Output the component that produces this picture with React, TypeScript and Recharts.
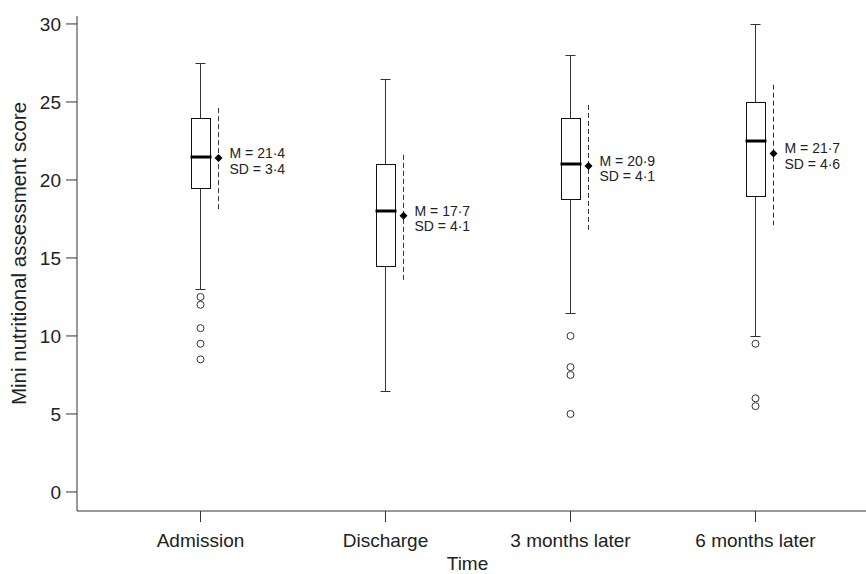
import { ComposedChart, Bar, Scatter, XAxis, YAxis } from "recharts";

const categories = ["Admission", "Discharge", "3 months later", "6 months later"];
const whiskerLow = [13, 6.5, 11.5, 10];
const q1 = [19.5, 14.5, 18.75, 19];
const medians = [21.5, 18, 21, 22.5];
const q3 = [24, 21, 24, 25];
const whiskerHigh = [27.5, 26.5, 28, 30];
const means = [21.4, 17.7, 20.9, 21.7];
const sds = [3.4, 4.1, 4.1, 4.6];
const outliers = [
  [12.5, 12, 10.5, 9.5, 8.5],
  [],
  [10, 8, 7.5, 5],
  [9.5, 6, 5.5],
];
const yTicks = [0, 5, 10, 15, 20, 25, 30];

const FONT = "'Liberation Sans', Arial, sans-serif";
const INK = "#222";

const rows = categories.map((name, i) => ({
  name,
  lo: whiskerLow[i],
  q1: q1[i],
  med: medians[i],
  q3: q3[i],
  hi: whiskerHigh[i],
  mean: means[i],
  sd: sds[i],
  outliers: outliers[i],
}));

const crisp = (v: number) => Math.round(v) + 0.5;
const fmt = (v: number) => v.toFixed(1).replace(".", "\u00b7");

function BoxShape(props: any) {
  const { x, y, width, height, payload } = props;
  const d = payload;
  const k = height / (d.hi - d.lo);
  const yOf = (v: number) => y + (d.hi - v) * k;
  const cx = crisp(x + width / 2 - 0.5);
  const bl = crisp(cx - 9.5);
  const br = bl + 19;
  const mx = cx + 18;
  const my = yOf(d.mean);
  return (
    <g>
      <line x1={cx} x2={cx} y1={crisp(yOf(d.hi))} y2={crisp(yOf(d.q3))} stroke="#333" />
      <line x1={cx} x2={cx} y1={crisp(yOf(d.q1))} y2={crisp(yOf(d.lo))} stroke="#333" />
      <line x1={cx - 5} x2={cx + 5} y1={crisp(yOf(d.hi))} y2={crisp(yOf(d.hi))} stroke="#333" />
      <line x1={cx - 5} x2={cx + 5} y1={crisp(yOf(d.lo))} y2={crisp(yOf(d.lo))} stroke="#333" />
      <rect x={bl} y={crisp(yOf(d.q3))} width={br - bl} height={crisp(yOf(d.q1)) - crisp(yOf(d.q3))} fill="#fff" stroke="#111" />
      <line x1={bl - 1} x2={br + 1} y1={Math.round(yOf(d.med))} y2={Math.round(yOf(d.med))} stroke="#000" strokeWidth={3} />
      <line x1={mx} x2={mx} y1={yOf(d.mean + d.sd) + 3} y2={yOf(d.mean - d.sd)} stroke="#333" strokeDasharray="5 3" />
      <polygon points={`${mx - 4},${my} ${mx},${my - 4} ${mx + 4},${my} ${mx},${my + 4}`} fill="#000" />
      <text x={cx + 29} y={my} fontSize={14} fill={INK} fontFamily={FONT}>
        M = {fmt(d.mean)}
      </text>
      <text x={cx + 29} y={my + 15.5} fontSize={14} fill={INK} fontFamily={FONT}>
        SD = {fmt(d.sd)}
      </text>
    </g>
  );
}

function outlierShape(k: number) {
  return (props: any) => {
    const { cx, cy, payload } = props;
    if (payload.outliers[k] == null || !isFinite(cy)) return <g />;
    return <circle cx={crisp(cx - 0.5)} cy={cy} r={3.5} fill="#fff" stroke="#333" />;
  };
}

function YTitle(props: any) {
  const vb = props.viewBox || { x: 0, y: 16, width: 77, height: 495 };
  const tx = vb.x + 18;
  const ty = vb.y + vb.height / 2 - 10;
  return (
    <text
      x={tx}
      y={ty}
      transform={`rotate(-90, ${tx}, ${ty})`}
      textAnchor="middle"
      dominantBaseline="central"
      fontSize={20.5}
      fill={INK}
      fontFamily={FONT}
    >
      Mini nutritional assessment score
    </text>
  );
}

export default function App() {
  return (
    <div style={{ position: "absolute", left: 0, top: 0, background: "#fff" }}>
      <ComposedChart
        width={866}
        height={574}
        data={rows}
        margin={{ top: 16, right: 0, bottom: 0, left: 0 }}
      >
        <XAxis
          dataKey="name"
          type="category"
          interval={0}
          height={63}
          padding={{ left: 31, right: 18 }}
          tickSize={11}
          tickMargin={12}
          axisLine={{ stroke: "#333" }}
          tickLine={{ stroke: "#333" }}
          tick={{ fontSize: 19, fill: INK, fontFamily: FONT }}
          label={{ value: "Time", position: "insideBottom", offset: 4, fontSize: 19, fill: INK, fontFamily: FONT, dx: -4 }}
        />
        <YAxis
          type="number"
          width={77}
          domain={[-1.22, 30.51]}
          allowDataOverflow
          ticks={yTicks}
          tickSize={11}
          tickMargin={5}
          axisLine={{ stroke: "#333" }}
          tickLine={{ stroke: "#333" }}
          tick={{ fontSize: 19, fill: INK, fontFamily: FONT }}
          label={{ content: YTitle }}
        />
        <Bar
          dataKey={(d: any) => [d.lo, d.hi]}
          barSize={19}
          shape={BoxShape}
          isAnimationActive={false}
        />
        {[0, 1, 2, 3, 4].map((k) => (
          <Scatter
            key={k}
            dataKey={(d: any) => d.outliers[k]}
            shape={outlierShape(k)}
            isAnimationActive={false}
          />
        ))}
      </ComposedChart>
    </div>
  );
}
